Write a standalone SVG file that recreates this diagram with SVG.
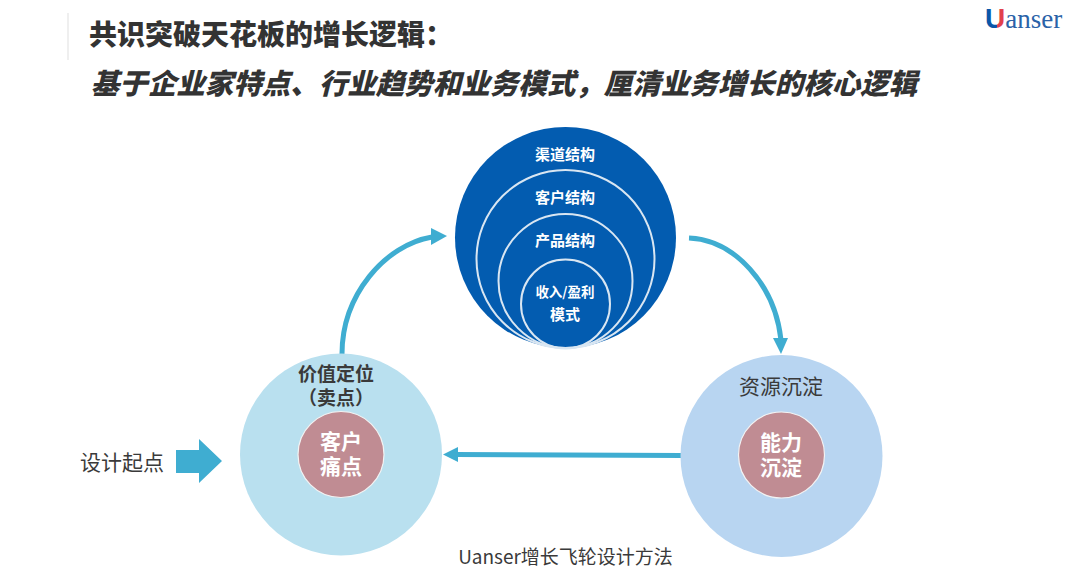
<svg xmlns="http://www.w3.org/2000/svg" width="1080" height="587" viewBox="0 0 1080 587">
<style>
text{font-family:"Noto Sans CJK SC","Noto Sans",sans-serif;text-anchor:middle}
.w{fill:#fff;font-weight:700}
.d{fill:#3a3a3a}
.t{fill:#333;font-weight:900}
.ring{fill:none;stroke:#d9e6f2;stroke-width:2}
.c{fill:none;stroke:#3fadd1;stroke-width:5}
.core{fill:#c08c93;stroke:#f3f3f3;stroke-width:1.200}
</style>
<defs>
<linearGradient id="u" gradientUnits="userSpaceOnUse" x1="985" y1="0" x2="1007" y2="0">
<stop offset="0.55" stop-color="#0b56a8"/><stop offset="0.55" stop-color="#e2404c"/>
</linearGradient>
</defs>
<rect width="1080" height="587" fill="#fff"/>
<g id="header">
<rect x="67" y="13" width="2" height="47" fill="#efefef"/>
<text x="271" y="45" font-size="28" class="t">共识突破天花板的增长逻辑：</text>
<text x="504" y="94" font-size="28.500" font-style="italic" class="t">基于企业家特点、行业趋势和业务模式，厘清业务增长的核心逻辑</text>
</g>
<g id="logo">
<text x="985" y="28" font-size="28" font-weight="700" style="text-anchor:start;font-family:'Liberation Sans',sans-serif"><tspan fill="url(#u)">U</tspan><tspan fill="#2a62a8" font-weight="400" font-size="27" style="font-family:'Liberation Serif',serif">anser</tspan></text>
</g>
<g id="connectors">
<path class="c" d="M342 354C342 295 385 245 432 237"/>
<path d="M447 236L431 228V245Z" fill="#3fadd1"/>
<path class="c" d="M689 238C735 240 775 285 781 340"/>
<path d="M781 354L773 338H788Z" fill="#3fadd1"/>
<path class="c" d="M682 455.500L456 454.500"/>
<path d="M443 454.500L458 447V462Z" fill="#3fadd1"/>
</g>
<g id="node-structure">
<circle cx="565.500" cy="237.500" r="110.500" fill="#035cb0"/>
<circle class="ring" cx="565.500" cy="259" r="89"/>
<circle class="ring" cx="565.500" cy="281" r="67"/>
<circle class="ring" cx="565.500" cy="304" r="44.500"/>
<text class="w" x="565" y="160" font-size="15">渠道结构</text>
<text class="w" x="565" y="203" font-size="15">客户结构</text>
<text class="w" x="565" y="246" font-size="15">产品结构</text>
<text class="w" x="565" y="297" font-size="13.500">收入/盈利</text>
<text class="w" x="565" y="320" font-size="15">模式</text>
</g>
<g id="node-value">
<circle cx="341" cy="454.500" r="101" fill="#b9e0ef"/>
<circle class="core" cx="341" cy="454.500" r="43"/>
<text font-size="19" font-weight="700" class="d"><tspan x="336" y="381">价值定位</tspan><tspan x="336" y="405">（卖点）</tspan></text>
<text class="w" font-size="21"><tspan x="341" y="449">客户</tspan><tspan x="341" y="474">痛点</tspan></text>
</g>
<g id="node-resource">
<circle cx="781.500" cy="456" r="101" fill="#b8d5f1"/>
<circle class="core" cx="781.500" cy="455" r="43"/>
<text x="781" y="394" font-size="21" class="d">资源沉淀</text>
<text class="w" font-size="21"><tspan x="781" y="450">能力</tspan><tspan x="781" y="475">沉淀</tspan></text>
</g>
<g id="start">
<text x="122" y="470" font-size="21" class="d">设计起点</text>
<path d="M176 450H199V439L222 461L199 483V473H176Z" fill="#3fadd1"/>
</g>
<text id="caption" x="565.500" y="564" font-size="19" class="d">Uanser增长飞轮设计方法</text>
</svg>
